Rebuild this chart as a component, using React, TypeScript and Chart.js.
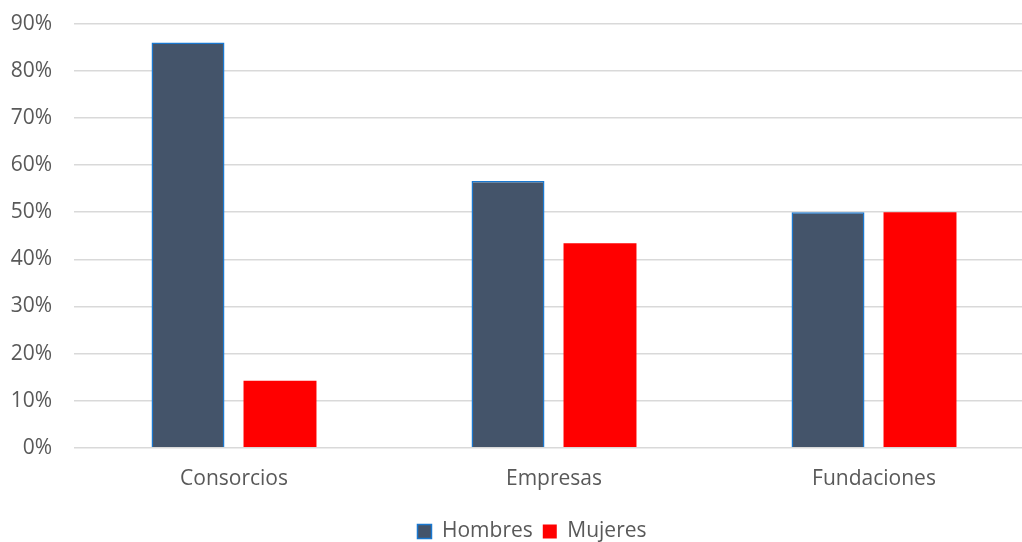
import React, { useEffect, useRef } from "react";
import { Chart, registerables } from "chart.js";

Chart.register(...registerables);

const categories = ["Consorcios", "Empresas", "Fundaciones"];
const hombres = [86, 56.6, 50];
const mujeres = [14.2, 43.4, 50];
const seriesNames = ["Hombres", "Mujeres"];
const yTicks = [0, 10, 20, 30, 40, 50, 60, 70, 80, 90];

const CANVAS_W = 1054;
const CANVAS_H = 563;
const CANVAS_TOP = -11;

export default function App() {
  const ref = useRef<HTMLCanvasElement>(null);
  useEffect(() => {
    document.body.style.margin = "0";
    const font = { family: "'Open Sans', 'Liberation Sans', sans-serif", size: 21 };
    const chart = new Chart(ref.current!, {
      type: "bar",
      data: {
        labels: categories,
        datasets: [
          {
            label: seriesNames[0],
            data: hombres,
            backgroundColor: "#44546A",
            borderColor: "#1A78D0",
            borderWidth: 1.5,
            categoryPercentage: 0.575,
            barPercentage: 0.793,
          },
          {
            label: seriesNames[1],
            data: mujeres,
            backgroundColor: "#FF0000",
            borderColor: "#FF0000",
            borderWidth: 0,
            categoryPercentage: 0.575,
            barPercentage: 0.793,
          },
        ],
      },
      options: {
        animation: false,
        responsive: false,
        maintainAspectRatio: false,
        layout: { padding: { top: 12, right: 0, left: 10, bottom: 0 } },
        plugins: {
          tooltip: { enabled: false },
          legend: {
            position: "bottom",
            labels: {
              color: "#595959",
              font,
              boxWidth: 14,
              boxHeight: 14,
              padding: 10,
            },
          },
        },
        scales: {
          x: {
            grid: { display: false, drawTicks: false },
            border: { display: false },
            ticks: { color: "#595959", font, padding: 19 },
          },
          y: {
            min: 0,
            max: 90,
            afterFit: (s: any) => {
              s.width = 64;
            },
            afterBuildTicks: (s: any) => {
              s.ticks = yTicks.map((v) => ({ value: v }));
            },
            grid: { color: "#D9D9D9", lineWidth: 1.5, drawTicks: false },
            border: { display: false },
            ticks: {
              color: "#595959",
              font,
              padding: 22,
              callback: (v: any) => v + "%",
            },
          },
          yRight: {
            position: "right",
            min: 0,
            max: 90,
            afterFit: (s: any) => {
              s.width = 20;
            },
            grid: { display: false, drawTicks: false },
            border: { display: false },
            ticks: { display: false },
          },
        },
      },
    });
    return () => chart.destroy();
  }, []);
  return (
    <div
      style={{
        position: "absolute",
        left: 0,
        top: 0,
        width: 1022,
        height: 542,
        overflow: "hidden",
        background: "#fff",
      }}
    >
      <canvas
        ref={ref}
        width={CANVAS_W}
        height={CANVAS_H}
        style={{
          position: "absolute",
          left: 0,
          top: CANVAS_TOP,
          width: CANVAS_W,
          height: CANVAS_H,
          display: "block",
        }}
      />
    </div>
  );
}
